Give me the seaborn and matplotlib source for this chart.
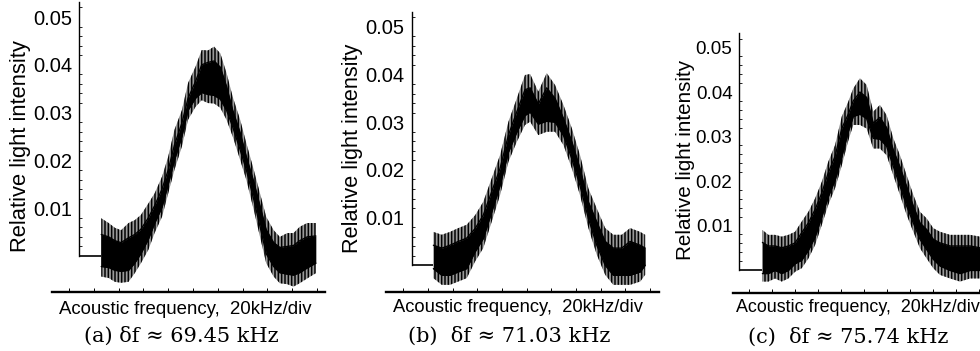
import numpy as np
import pandas as pd
import matplotlib
matplotlib.use("Agg")
import matplotlib.pyplot as plt
import seaborn as sns
from matplotlib.ticker import FixedLocator

sns.set_theme(style="white")
plt.rcParams['font.family'] = ['Liberation Sans', 'DejaVu Sans']
plt.rcParams['hatch.linewidth'] = 1.1
plt.rcParams['hatch.color'] = 'black'

# ---------------- data ----------------
# x in bottom-axis tick units, y = relative light intensity
x_a = [1.3, 1.6, 1.85, 2.1, 2.4, 2.65, 2.9, 3.2, 3.45, 3.75,
       4.0, 4.25, 4.55, 4.8, 5.1, 5.35, 5.6, 5.85, 6.1, 6.35,
       6.6, 6.9, 7.15, 7.45, 7.7, 7.95, 8.25, 8.5, 8.8, 9.05,
       9.3, 9.6, 9.95]
hi_a = [.0079, .0069, .0059, .0054, .0069, .0075, .0086, .0110, .0131, .0166,
        .0208, .0264, .0305, .0362, .0396, .0431, .0430, .0438, .0424, .0383,
        .0333, .0285, .0236, .0180, .0131, .0082, .0054, .0040, .0048, .0048,
        .0061, .0069, .0069]
lo_a = [-.0043, -.0046, -.0054, -.0056, -.0054, -.0036, -.0015, .0013, .0048, .0082,
        .0131, .0180, .0229, .0285, .0312, .0326, .0320, .0319, .0310, .0285,
        .0250, .0201, .0159, .0096, .0040, -.0015, -.0043, -.0057, -.0059, -.0064,
        -.0057, -.0047, -.0036]
core_hi_a = [.0045, .0040, .0032, .0028, .0038, .0045, .0056, .0080, .0105, .0140,
             .0180, .0232, .0278, .0330, .0365, .0400, .0405, .0408, .0395, .0355,
             .0305, .0258, .0208, .0155, .0105, .0055, .0028, .0018, .0020, .0022,
             .0032, .0040, .0042]
core_lo_a = [-.0022, -.0024, -.0030, -.0032, -.0030, -.0015, .0005, .0035, .0068, .0102,
             .0150, .0200, .0250, .0305, .0330, .0342, .0338, .0336, .0328, .0305,
             .0270, .0222, .0180, .0118, .0062, .0005, -.0022, -.0035, -.0038, -.0040,
             -.0035, -.0025, -.0015]

x_b = [1.22, 1.56, 1.89, 2.23, 2.57, 2.91, 3.24, 3.58, 3.92, 4.26,
       4.6, 4.93, 5.14, 5.47, 5.81, 6.15, 6.49, 6.83, 7.16, 7.5,
       7.84, 8.18, 8.51, 8.85, 9.19, 9.6, 9.8]
hi_b = [.0070, .0064, .0070, .0078, .0085, .0105, .0133, .0182, .0231, .0301,
        .0350, .0399, .0401, .0364, .0403, .0378, .0336, .0287, .0231, .0161,
        .0119, .0078, .0064, .0064, .0078, .0070, .0064]
lo_b = [-.0027, -.0041, -.0041, -.0034, -.0027, .0008, .0036, .0091, .0147, .0217,
        .0259, .0294, .0301, .0273, .0280, .0280, .0252, .0203, .0147, .0078,
        .0022, -.0020, -.0041, -.0041, -.0041, -.0034, -.0020]
core_hi_b = [.0042, .0036, .0042, .0050, .0057, .0077, .0105, .0154, .0203, .0273,
             .0322, .0368, .0372, .0338, .0372, .0350, .0308, .0259, .0203, .0133,
             .0091, .0050, .0036, .0036, .0050, .0042, .0036]
core_lo_b = [-.0007, -.0021, -.0021, -.0014, -.0007, .0028, .0056, .0111, .0167, .0237,
             .0279, .0314, .0321, .0296, .0302, .0300, .0272, .0223, .0167, .0098,
             .0042, .0000, -.0021, -.0021, -.0021, -.0014, -.0000]

x_c = [0.57, 0.83, 1.12, 1.41, 1.7, 1.99, 2.28, 2.57, 2.86, 3.15,
       3.43, 3.73, 4.02, 4.3, 4.52, 4.81, 5.1, 5.39, 5.68, 5.97,
       6.26, 6.55, 6.84, 7.13, 7.42, 7.71, 8.0, 8.29, 8.73, 9.16,
       9.6, 10.03, 10.4]
hi_c = [.0090, .0079, .0079, .0075, .0079, .0086, .0109, .0131, .0161, .0198,
        .0243, .0281, .0345, .0378, .0408, .0431, .0416, .0356, .0371, .0348,
        .0296, .0258, .0213, .0169, .0131, .0116, .0094, .0086, .0079, .0079,
        .0079, .0075, .0078]
lo_c = [-.0026, -.0026, -.0019, -.0026, -.0019, -.0004, .0004, .0026, .0056, .0101,
        .0146, .0184, .0235, .0290, .0326, .0326, .0318, .0273, .0273, .0258,
        .0213, .0169, .0124, .0086, .0049, .0026, .0004, -.0011, -.0019, -.0026,
        -.0019, -.0019, -.0020]
core_hi_c = [.0062, .0054, .0054, .0050, .0054, .0061, .0084, .0106, .0136, .0173,
             .0218, .0256, .0318, .0350, .0380, .0400, .0388, .0330, .0343, .0320,
             .0270, .0232, .0188, .0144, .0106, .0091, .0069, .0061, .0054, .0054,
             .0054, .0050, .0053]
core_lo_c = [-.0008, -.0008, -.0001, -.0008, -.0001, .0014, .0022, .0044, .0074, .0119,
             .0164, .0202, .0254, .0310, .0345, .0350, .0340, .0296, .0294, .0278,
             .0233, .0189, .0144, .0106, .0069, .0046, .0024, .0009, -.0001, -.0008,
             -.0001, -.0001, -.0002]

y_ticks = [0.01, 0.02, 0.03, 0.04, 0.05]
y_tick_labels = ["0.01", "0.02", "0.03", "0.04", "0.05"]
x_ticks = list(range(11))
y_label = "Relative light intensity"
x_label = "Acoustic frequency,  20kHz/div"
captions = ["(a) δf ≈ 69.45 kHz", "(b)  δf ≈ 71.03 kHz", "(c)  δf ≈ 75.74 kHz"]

# ---------------- layout ----------------
W, H = 980, 351
fig = plt.figure(figsize=(9.8, 3.51), dpi=100)
fig.patch.set_facecolor("white")


def px_axes(l, r, t, b):
    return fig.add_axes([l / W, 1 - b / H, (r - l) / W, (b - t) / H])


def ptext(px, py, s, **kw):
    fig.text(px / W, 1 - py / H, s, **kw)


panels = [
    dict(x=x_a, hi=hi_a, lo=lo_a, chi=core_hi_a, clo=core_lo_a,
         box=(52, 325, 2, 292), xlim=(-0.685, 10.32), ylim=(-0.00753, 0.05314),
         spine=0.40, fs_tick=14.5, fs_lab=15.8, fs_x=13.4,
         ylab=(21, 146), xlab=(185.5, 310), cap=(181, 336)),
    dict(x=x_b, hi=hi_b, lo=lo_b, chi=core_hi_b, clo=core_lo_b,
         box=(386, 659, 11.7, 292), xlim=(-0.70, 10.36), ylim=(-0.0056, 0.05317),
         spine=0.34, fs_tick=14.5, fs_lab=15.6, fs_x=13.25,
         ylab=(352.5, 148.5), xlab=(518.3, 307), cap=(509.5, 336)),
    dict(x=x_c, hi=hi_c, lo=lo_c, chi=core_hi_c, clo=core_lo_c,
         box=(733.3, 980, 33.3, 292.7), xlim=(-0.696, 10.03), ylim=(-0.0051, 0.0532),
         spine=-0.43, fs_tick=13.6, fs_lab=14.9, fs_x=12.85,
         ylab=(685, 160), xlab=(857.5, 308), cap=(848, 337)),
]

for p, cap in zip(panels, captions):
    ax = px_axes(*p["box"])
    ax.set_facecolor("none")
    ax.set_xlim(*p["xlim"])
    ax.set_ylim(*p["ylim"])

    # noisy band: spiky fringe (hatched) + solid core
    ax.fill_between(p["x"], p["lo"], p["hi"], facecolor="#9a9a9a", edgecolor="black",
                    hatch="|||||", lw=0)
    ax.fill_between(p["x"], p["clo"], p["chi"], color="black", lw=0)
    df = pd.DataFrame({"f": p["x"], "top": p["chi"], "bot": p["clo"]})
    sns.lineplot(data=df, x="f", y="top", color="black", lw=1.0, ax=ax, estimator=None)
    sns.lineplot(data=df, x="f", y="bot", color="black", lw=1.0, ax=ax, estimator=None)

    # zero-level stub from y axis to the start of the data
    ax.plot([p["spine"], p["x"][0]], [0, 0], color="black", lw=1.2, solid_capstyle="butt")

    for s in ["top", "right"]:
        ax.spines[s].set_visible(False)
    ax.spines["left"].set_position(("data", p["spine"]))
    ax.spines["left"].set_bounds(0, p["ylim"][1])
    ax.spines["left"].set_color("black")
    ax.spines["left"].set_linewidth(1.0)
    ax.spines["bottom"].set_color("black")
    ax.spines["bottom"].set_linewidth(1.7)

    ax.yaxis.set_major_locator(FixedLocator(y_ticks))
    ax.set_yticklabels(y_tick_labels)
    ax.yaxis.set_minor_locator(FixedLocator([v for v in np.arange(0.002, 0.0525, 0.002)
                                             if abs(v * 100 - round(v * 100)) > 1e-6]))
    ax.xaxis.set_major_locator(FixedLocator(x_ticks))
    ax.set_xticklabels([])
    ax.tick_params(axis="y", which="major", direction="in", length=3.5, width=0.8,
                   color="black", labelsize=p["fs_tick"], pad=5.0, labelcolor="black")
    ax.tick_params(axis="y", which="minor", direction="in", length=2, width=0.6,
                   color="black", left=True)
    ax.tick_params(axis="x", which="major", direction="in", length=3, width=0.7,
                   color="black", bottom=True)
    ax.set_xlabel("")
    ax.set_ylabel("")

    ptext(*p["ylab"], y_label, rotation=90, ha="center", va="center",
          fontsize=p["fs_lab"], color="black")
    ptext(*p["xlab"], x_label, ha="center", va="center", fontsize=p["fs_x"], color="black")
    ptext(*p["cap"], cap, ha="center", va="center", fontsize=15, color="black",
          family=["DejaVu Serif"])

fig.savefig("out.png", dpi=100, facecolor="white")
